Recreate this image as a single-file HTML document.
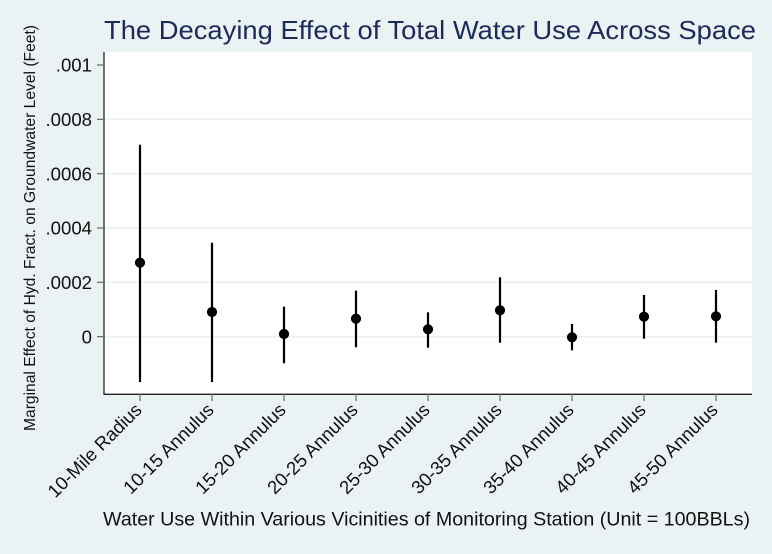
<!DOCTYPE html>
<html>
<head>
<meta charset="utf-8">
<style>
  html, body { margin: 0; padding: 0; background: #eaf2f4; }
  svg { display: block; }
  text { font-family: "Liberation Sans", Arial, sans-serif; }
</style>
</head>
<body>
<svg width="772" height="554" viewBox="0 0 772 554" xmlns="http://www.w3.org/2000/svg">
  <rect x="0" y="0" width="772" height="554" fill="#eaf2f4"/>
  <!-- Title -->
  <text x="104" y="39" font-size="26" fill="#1c2a5a" textLength="652" lengthAdjust="spacingAndGlyphs">The Decaying Effect of Total Water Use Across Space</text>

  <!-- Plot region -->
  <rect x="104" y="52" width="648" height="342" fill="#ffffff"/>

  <!-- Gridlines -->
  <g stroke="#e6eff2" stroke-width="1.5">
    <line x1="105" y1="119.3" x2="752" y2="119.3"/>
    <line x1="105" y1="173.7" x2="752" y2="173.7"/>
    <line x1="105" y1="228" x2="752" y2="228"/>
    <line x1="105" y1="282.3" x2="752" y2="282.3"/>
    <line x1="105" y1="336.7" x2="752" y2="336.7"/>
  </g>

  <!-- Axes -->
  <line x1="104" y1="52" x2="104" y2="394.5" stroke="#222" stroke-width="1.3"/>
  <line x1="103.5" y1="394.3" x2="752" y2="394.3" stroke="#222" stroke-width="1.3"/>

  <!-- Y ticks -->
  <g stroke="#666" stroke-width="1.2">
    <line x1="97" y1="65" x2="104" y2="65"/>
    <line x1="97" y1="119.3" x2="104" y2="119.3"/>
    <line x1="97" y1="173.7" x2="104" y2="173.7"/>
    <line x1="97" y1="228" x2="104" y2="228"/>
    <line x1="97" y1="282.3" x2="104" y2="282.3"/>
    <line x1="97" y1="336.7" x2="104" y2="336.7"/>
  </g>
  <g font-size="18.6" fill="#111" text-anchor="end">
    <text x="92" y="71.6">.001</text>
    <text x="92" y="125.9">.0008</text>
    <text x="92" y="180.3">.0006</text>
    <text x="92" y="234.6">.0004</text>
    <text x="92" y="288.9">.0002</text>
    <text x="92" y="343.3">0</text>
  </g>

  <!-- Y axis title -->
  <text transform="translate(35,228) rotate(-90)" x="0" y="0" font-size="15.6" fill="#111" text-anchor="middle" textLength="406" lengthAdjust="spacingAndGlyphs">Marginal Effect of Hyd. Fract. on Groundwater Level (Feet)</text>

  <!-- X ticks -->
  <g stroke="#666" stroke-width="1.2">
    <line x1="140" y1="394" x2="140" y2="401"/>
    <line x1="212" y1="394" x2="212" y2="401"/>
    <line x1="284" y1="394" x2="284" y2="401"/>
    <line x1="356" y1="394" x2="356" y2="401"/>
    <line x1="428" y1="394" x2="428" y2="401"/>
    <line x1="500" y1="394" x2="500" y2="401"/>
    <line x1="572" y1="394" x2="572" y2="401"/>
    <line x1="644" y1="394" x2="644" y2="401"/>
    <line x1="716" y1="394" x2="716" y2="401"/>
  </g>
  <g font-size="18.6" fill="#111" text-anchor="end">
    <text transform="translate(143,411) rotate(-45)">10-Mile Radius</text>
    <text transform="translate(215,411) rotate(-45)">10-15 Annulus</text>
    <text transform="translate(287,411) rotate(-45)">15-20 Annulus</text>
    <text transform="translate(359,411) rotate(-45)">20-25 Annulus</text>
    <text transform="translate(431,411) rotate(-45)">25-30 Annulus</text>
    <text transform="translate(503,411) rotate(-45)">30-35 Annulus</text>
    <text transform="translate(575,411) rotate(-45)">35-40 Annulus</text>
    <text transform="translate(647,411) rotate(-45)">40-45 Annulus</text>
    <text transform="translate(719,411) rotate(-45)">45-50 Annulus</text>
  </g>

  <!-- X axis title -->
  <text x="103" y="525.5" font-size="19.5" fill="#111" textLength="647" lengthAdjust="spacingAndGlyphs">Water Use Within Various Vicinities of Monitoring Station (Unit = 100BBLs)</text>

  <!-- CI bars -->
  <g stroke="#000" stroke-width="2.2">
    <line x1="140" y1="144.7" x2="140" y2="382"/>
    <line x1="212" y1="242.7" x2="212" y2="382"/>
    <line x1="284" y1="306.7" x2="284" y2="363.3"/>
    <line x1="356" y1="290.7" x2="356" y2="347.3"/>
    <line x1="428" y1="312.3" x2="428" y2="347.7"/>
    <line x1="500" y1="277.3" x2="500" y2="342.7"/>
    <line x1="572" y1="324" x2="572" y2="350.3"/>
    <line x1="644" y1="295" x2="644" y2="338.7"/>
    <line x1="716" y1="290" x2="716" y2="342.7"/>
  </g>
  <!-- Point estimates -->
  <g fill="#000">
    <circle cx="140" cy="262.7" r="5.1"/>
    <circle cx="212" cy="312" r="5.1"/>
    <circle cx="284" cy="334" r="5.1"/>
    <circle cx="356" cy="318.7" r="5.1"/>
    <circle cx="428" cy="329.3" r="5.1"/>
    <circle cx="500" cy="310.3" r="5.1"/>
    <circle cx="572" cy="337.3" r="5.1"/>
    <circle cx="644" cy="316.7" r="5.1"/>
    <circle cx="716" cy="316.3" r="5.1"/>
  </g>
</svg>
</body>
</html>
